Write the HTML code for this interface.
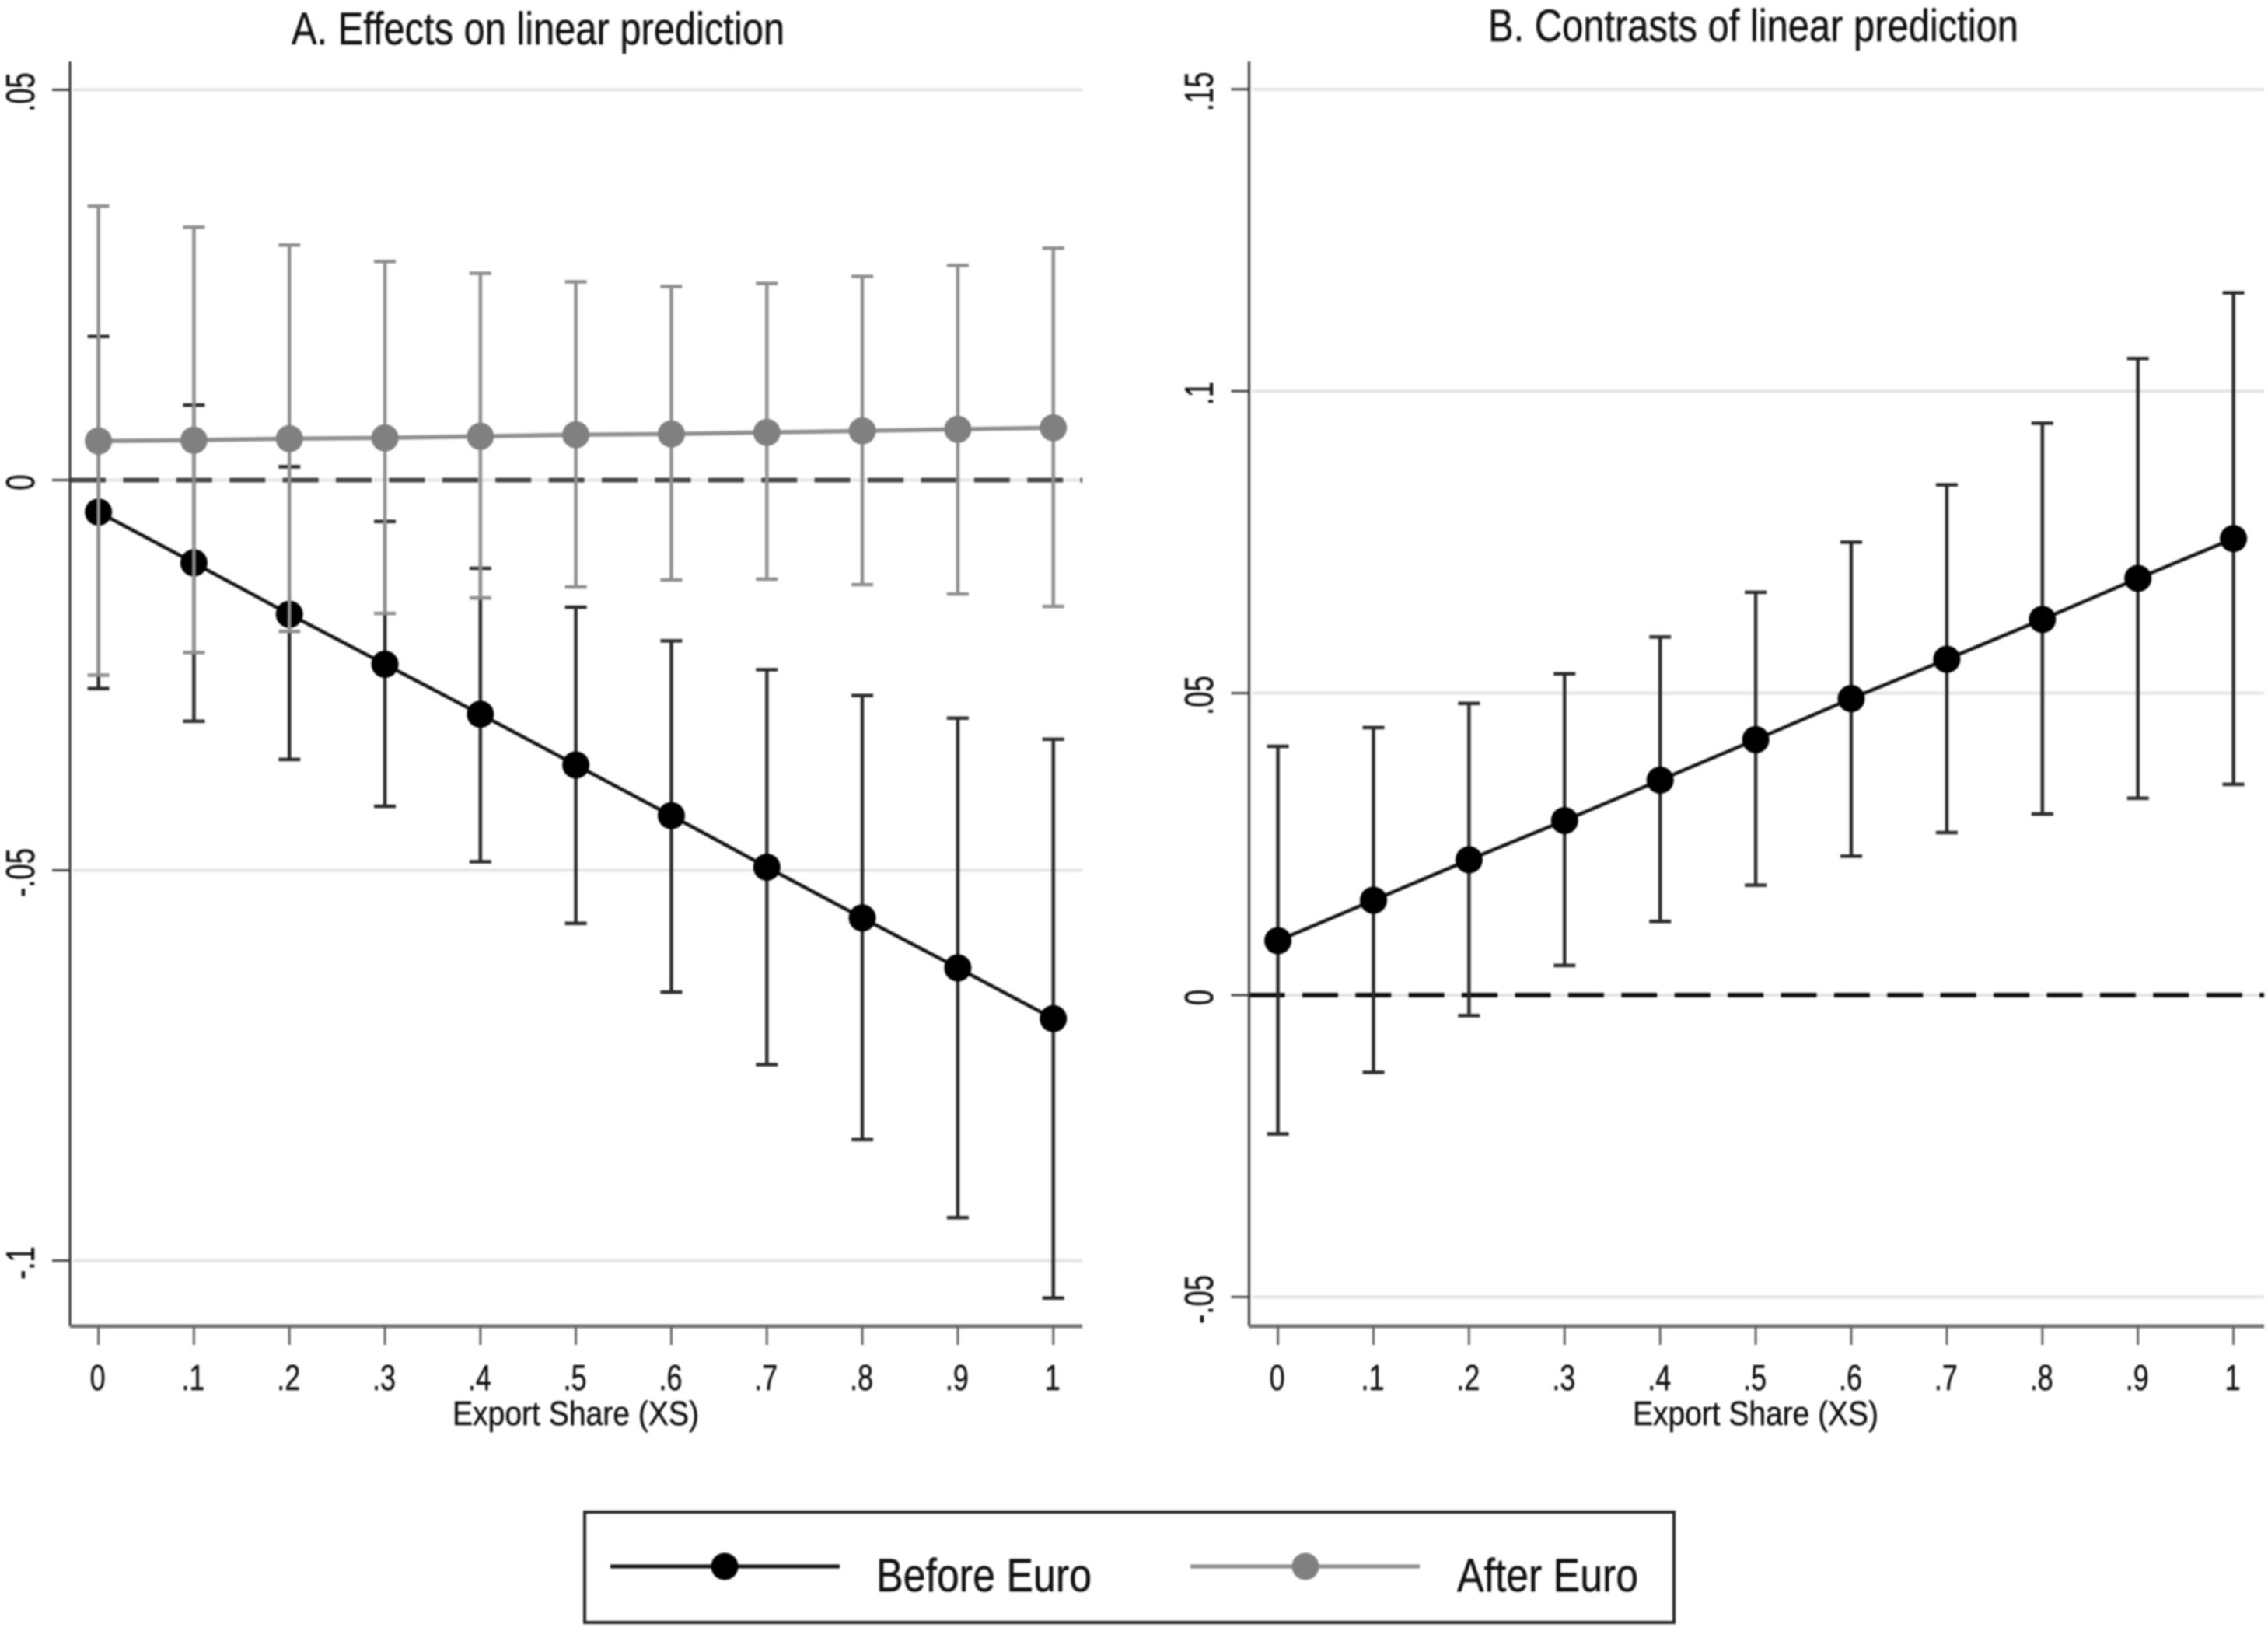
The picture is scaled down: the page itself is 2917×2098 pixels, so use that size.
<!DOCTYPE html>
<html lang="en">
<head>
<meta charset="utf-8">
<title>Effects and contrasts of linear prediction</title>
<style>
html,body{margin:0;padding:0;background:#fff;width:2917px;height:2098px;overflow:hidden}
svg{display:block;filter:blur(1.1px)}
text{font-family:"Liberation Sans",sans-serif;fill:#111;stroke:#111;stroke-width:.5px}
</style>
</head>
<body>
<svg id="chart" xmlns="http://www.w3.org/2000/svg" width="2917" height="2098" viewBox="0 0 2917 2098">
<rect x="0" y="0" width="2917" height="2098" fill="#ffffff"/>
<text x="375" y="57" font-size="58" textLength="634" lengthAdjust="spacingAndGlyphs">A. Effects on linear prediction</text>
<text x="1914" y="53" font-size="58" textLength="682" lengthAdjust="spacingAndGlyphs">B. Contrasts of linear prediction</text>
<text x="582" y="1833" font-size="44" textLength="317" lengthAdjust="spacingAndGlyphs">Export Share (XS)</text>
<text x="2100" y="1833" font-size="44" textLength="316" lengthAdjust="spacingAndGlyphs">Export Share (XS)</text>
<g>
<rect x="752" y="1945" width="1401" height="142" fill="#fff" stroke="#222" stroke-width="4"/>
<g>
<line x1="785" y1="2015" x2="1080" y2="2015" stroke="#111" stroke-width="5"/>
<circle cx="932" cy="2015" r="17.5" fill="#000"/>
<text x="1127" y="2047" font-size="60" textLength="277" lengthAdjust="spacingAndGlyphs">Before Euro</text>
</g>
<g>
<line x1="1531" y1="2015" x2="1826" y2="2015" stroke="#8a8a8a" stroke-width="5"/>
<circle cx="1679" cy="2015" r="17.5" fill="#808080"/>
<text x="1874" y="2047" font-size="60" textLength="233" lengthAdjust="spacingAndGlyphs">After Euro</text>
</g>
</g>
</svg>
<script>
const exportShare = [0, .1, .2, .3, .4, .5, .6, .7, .8, .9, 1];
const xTickLabels = ["0", ".1", ".2", ".3", ".4", ".5", ".6", ".7", ".8", ".9", "1"];

const panelAYTicks = [.05, 0, -.05, -.1];
const panelAYTickLabels = [".05", "0", "-.05", "-.1"];
const panelBYTicks = [.15, .1, .05, 0, -.05];
const panelBYTickLabels = [".15", ".1", ".05", "0", "-.05"];

const beforeEst = [-.0041, -.0106, -.0172, -.0236, -.0300, -.0365, -.0430, -.0496, -.0561, -.0625, -.0690];
const beforeHi = [.0184, .0096, .0017, -.0053, -.0113, -.0163, -.0206, -.0243, -.0276, -.0305, -.0332];
const beforeLo = [-.0267, -.0309, -.0358, -.0418, -.0489, -.0568, -.0656, -.0749, -.0845, -.0945, -.1048];

const afterEst = [.0050, .0051, .0053, .0054, .0056, .0058, .0059, .0061, .0063, .0065, .0067];
const afterHi = [.0351, .0324, .0301, .0280, .0265, .0254, .0248, .0252, .0261, .0275, .0297];
const afterLo = [-.0250, -.0221, -.0194, -.0171, -.0151, -.0137, -.0128, -.0127, -.0134, -.0146, -.0162];

const contrastEst = [.0090, .0157, .0224, .0289, .0356, .0423, .0491, .0556, .0622, .0690, .0756];
const contrastHi = [.0412, .0443, .0483, .0532, .0593, .0667, .0750, .0845, .0947, .1054, .1163];
const contrastLo = [-.0230, -.0128, -.0034, .0049, .0122, .0182, .0230, .0269, .0300, .0326, .0349];

const NS = "http://www.w3.org/2000/svg";
const svg = document.getElementById("chart");

function mk(parent, tag, attrs) {
  const el = document.createElementNS(NS, tag);
  for (const k in attrs) el.setAttribute(k, attrs[k]);
  parent.appendChild(el);
  return el;
}

function drawSeries(g, xf, yf, est, hi, lo, barColor, lineColor, lineW, markColor, seriesName) {
  const bars = mk(g, "g", {});
  
  
  exportShare.forEach((v, i) => {
    const x = xf(v);
    const bar = mk(bars, "line", {x1: x, x2: x, y1: yf(hi[i]), y2: yf(lo[i]), stroke: barColor, "stroke-width": 4.5});
    
    
    const capTop = mk(bars, "line", {x1: x - 14, x2: x + 14, y1: yf(hi[i]), y2: yf(hi[i]), stroke: barColor, "stroke-width": 4.5});
    
    
    const capBot = mk(bars, "line", {x1: x - 14, x2: x + 14, y1: yf(lo[i]), y2: yf(lo[i]), stroke: barColor, "stroke-width": 4.5});
    
    
  });
  const pts = exportShare.map((v, i) => xf(v) + "," + yf(est[i])).join(" ");
  const line = mk(g, "polyline", {points: pts, fill: "none", stroke: lineColor, "stroke-width": lineW});
  
  
  exportShare.forEach((v, i) => {
    const pt = mk(g, "circle", {cx: xf(v), cy: yf(est[i]), r: 17.5, fill: markColor});
    
    
  });
}

function drawAxes(g, xf, yf, yTicks, yLabels, axisX, axisTop, axisBottom, right, labelX, zeroColor) {
  yTicks.forEach((v, i) => {
    const y = yf(v);
    const grid = mk(g, "line", {x1: axisX + 4, x2: right, y1: y, y2: y, stroke: "#e4e4e4", "stroke-width": 4});
    
    
    const tick = mk(g, "line", {x1: axisX - 23, x2: axisX, y1: y, y2: y, stroke: "#444", "stroke-width": 3});
    
    
    const label = mk(g, "text", {transform: "translate(" + labelX + "," + (y + 3) + ") rotate(-90) scale(.7,1)", "text-anchor": "middle", "font-size": 52});
    label.textContent = yLabels[i];
    
    
  });
  const zero = mk(g, "line", {x1: axisX, x2: right, y1: yf(0), y2: yf(0), stroke: zeroColor, "stroke-width": 6, "stroke-dasharray": "46 22.4"});
  
  
  const yAxis = mk(g, "line", {x1: axisX, x2: axisX, y1: axisTop, y2: axisBottom, stroke: "#333", "stroke-width": 3});
  
  
  const xAxis = mk(g, "line", {x1: axisX, x2: right, y1: axisBottom, y2: axisBottom, stroke: "#777", "stroke-width": 5});
  
  
  exportShare.forEach((v, i) => {
    const x = xf(v);
    const tick = mk(g, "line", {x1: x, x2: x, y1: axisBottom, y2: axisBottom + 24, stroke: "#666", "stroke-width": 3});
    
    
    const label = mk(g, "text", {transform: "translate(" + (x - 1) + ",1788) scale(.78,1)", "text-anchor": "middle", "font-size": 46});
    label.textContent = xTickLabels[i];
    
    
  });
}

/* Panel A */
const panelA = mk(svg, "g", {});


const xA = v => 126.6 + v * 1228.1;
const yA = v => 617.5 - v * 10040;
drawAxes(panelA, xA, yA, panelAYTicks, panelAYTickLabels, 90, 79, 1706, 1392, 44, "#444");
drawSeries(panelA, xA, yA, beforeEst, beforeHi, beforeLo, "#2a2a2a", "#111", 4.5, "#000", "before-euro");
drawSeries(panelA, xA, yA, afterEst, afterHi, afterLo, "#8f8f8f", "#8f8f8f", 5.5, "#808080", "after-euro");

/* Panel B */
const panelB = mk(svg, "g", {});


const xB = v => 1643.6 + v * 1229;
const yB = v => 1280 - v * 7768;
drawAxes(panelB, xB, yB, panelBYTicks, panelBYTickLabels, 1606.5, 79, 1706, 2912, 1560, "#111");
drawSeries(panelB, xB, yB, contrastEst, contrastHi, contrastLo, "#2a2a2a", "#111", 4.5, "#000", "contrast");
</script>
</body>
</html>
